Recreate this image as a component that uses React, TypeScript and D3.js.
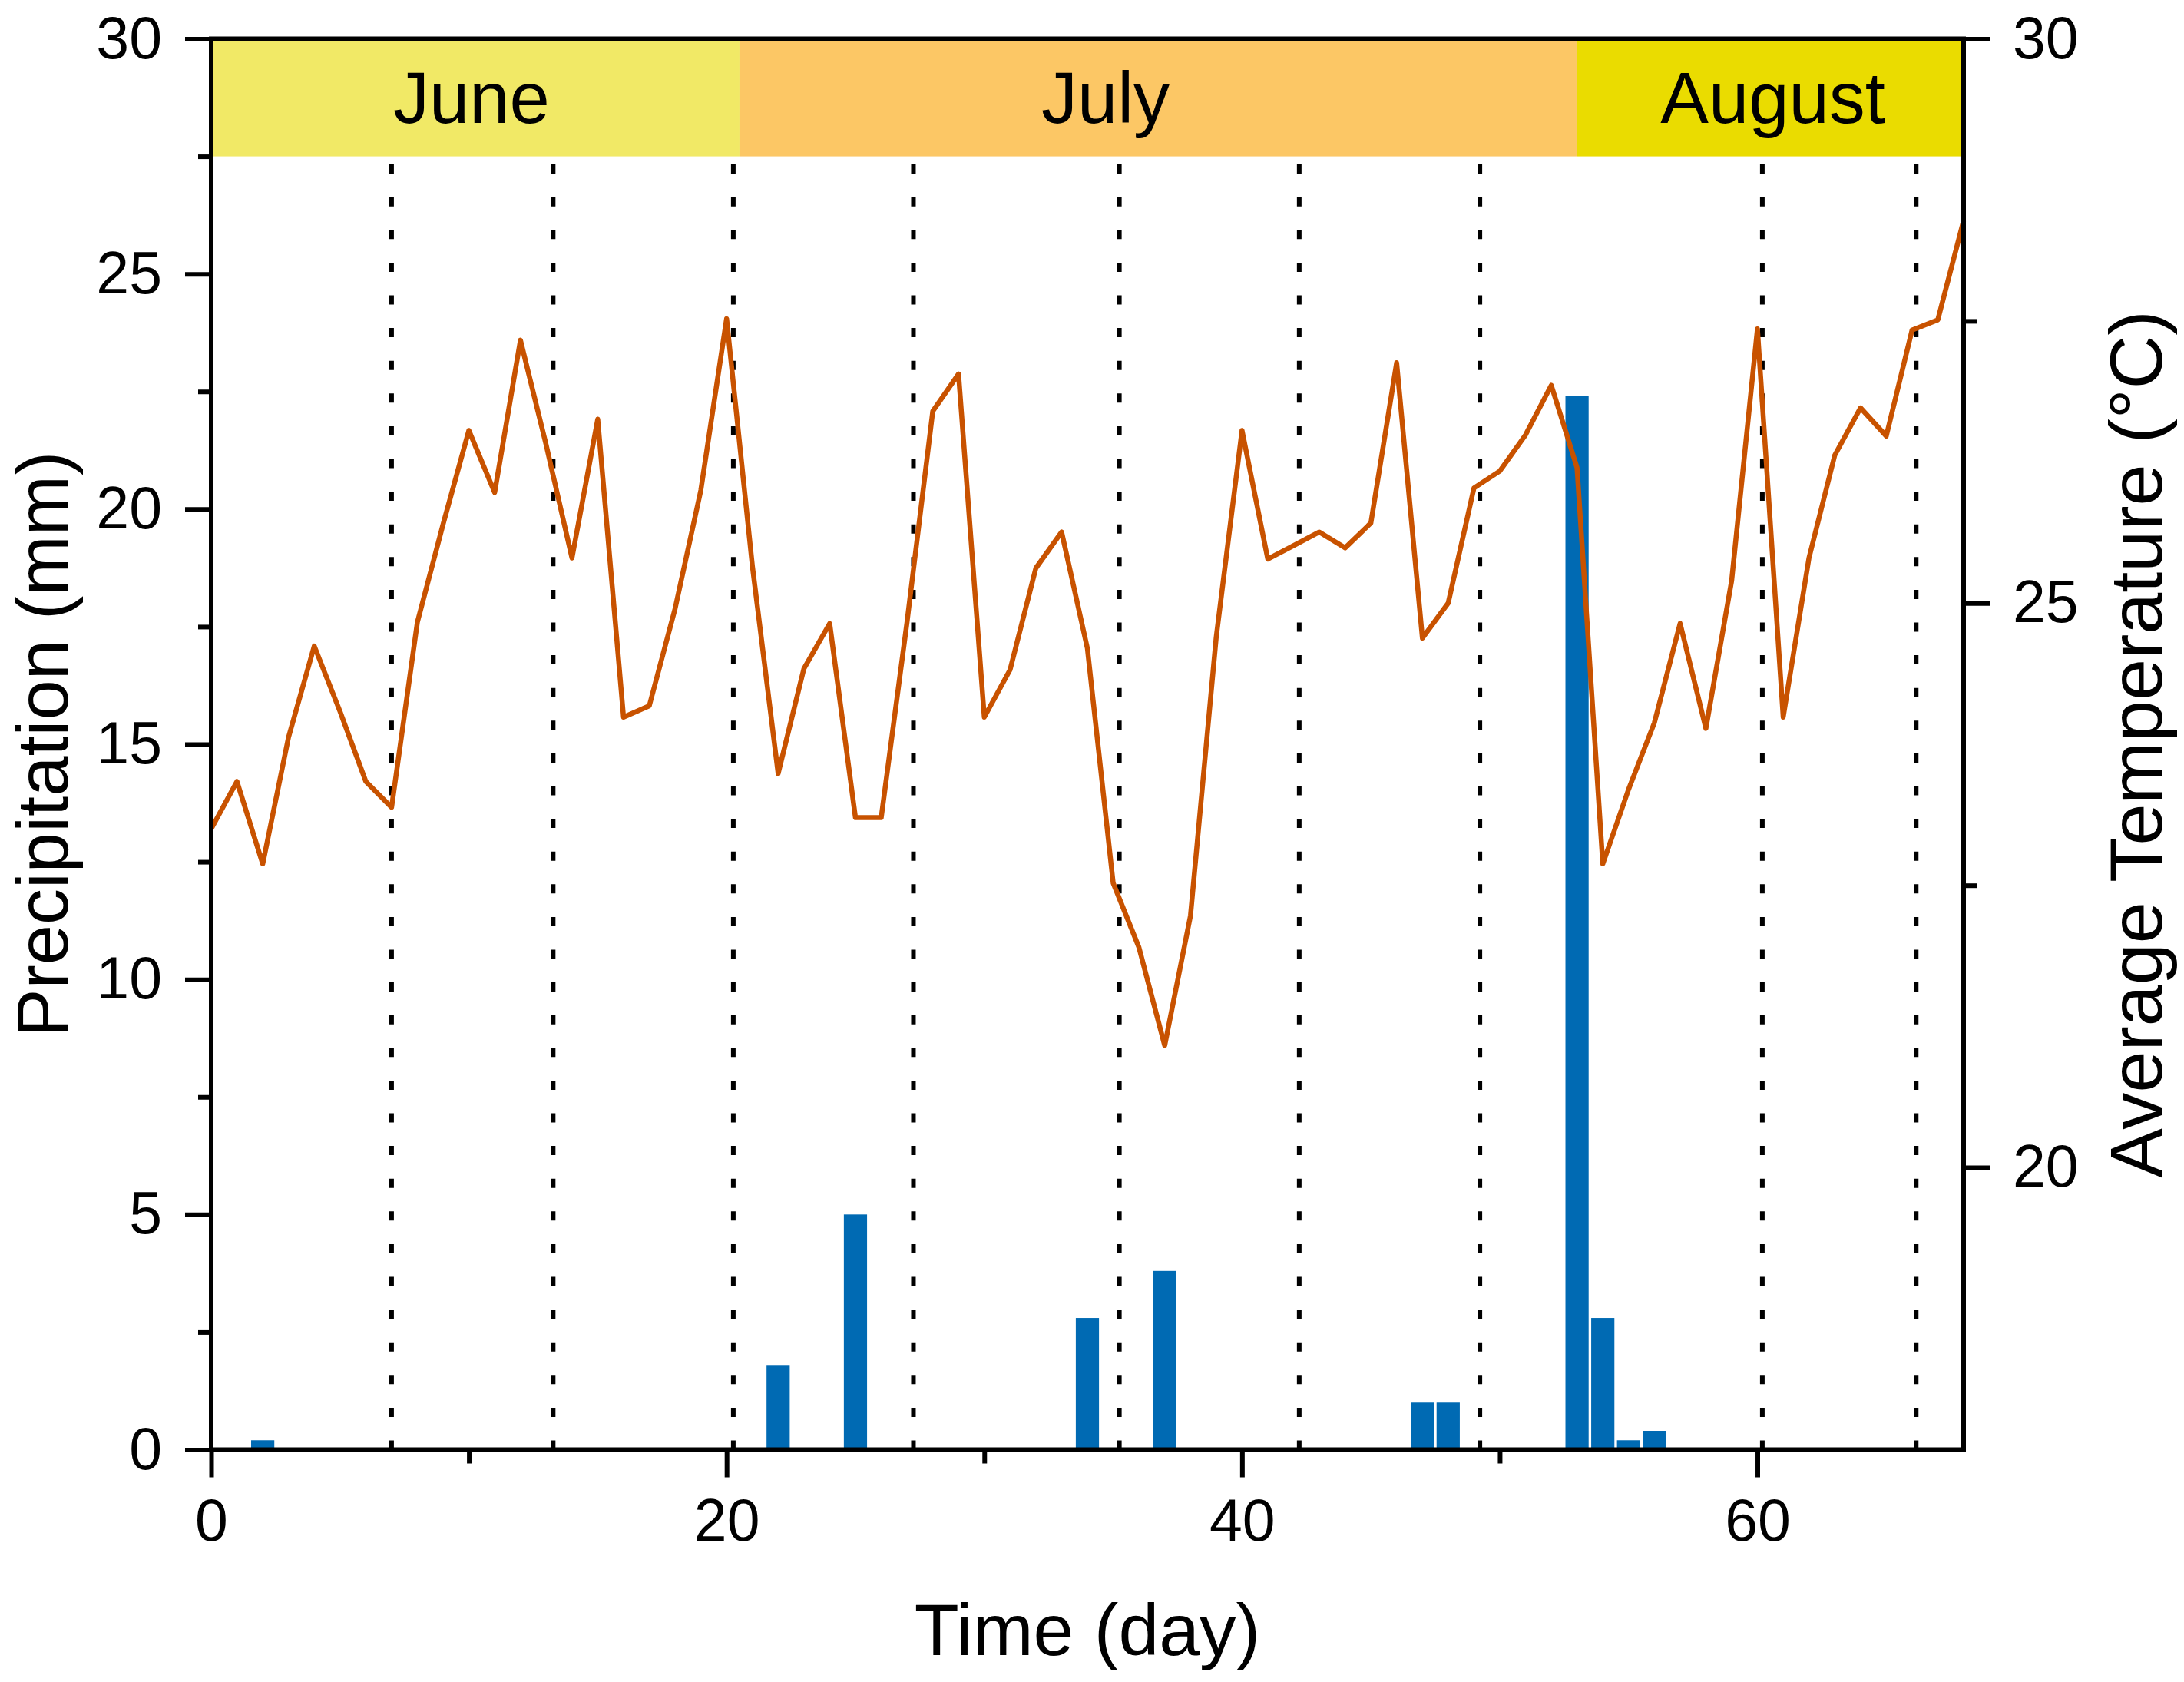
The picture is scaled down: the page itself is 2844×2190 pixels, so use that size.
import * as d3 from "d3";
import React, { useRef, useEffect } from "react";

// daily mean temperature (°C), day 0..68
const temperature = [
  23.0, 23.42, 22.69, 23.81, 24.62, 24.04, 23.42, 23.19, 24.83, 25.7,
  26.53, 25.98, 27.33, 26.4, 25.4, 26.63, 23.99, 24.09, 24.95, 26.0,
  27.52, 25.33, 23.49, 24.42, 24.82, 23.1, 23.1, 24.83, 26.7, 27.03,
  23.99, 24.41, 25.31, 25.63, 24.6, 22.52, 21.95, 21.08, 22.23, 24.7,
  26.53, 25.39, 25.51, 25.63, 25.49, 25.71, 27.13, 24.69, 25.0, 26.02,
  26.17, 26.49, 26.93, 26.2, 22.69, 23.35, 23.94, 24.82, 23.89, 25.2,
  27.43, 23.99, 25.4, 26.31, 26.73, 26.48, 27.42, 27.51, 28.39,
];

// precipitation (mm) on rainy days only
const rainDays = [2, 22, 25, 34, 37, 47, 48, 53, 54, 55, 56];
const rainMm = [0.2, 1.8, 5.0, 2.8, 3.8, 1.0, 1.0, 22.4, 2.8, 0.2, 0.4];

// sampling days (dotted lines)
const samplingDays = [7, 13.27, 20.26, 27.25, 35.24, 42.22, 49.23, 60.19, 66.16];

// month bands
const monthNames = ["June", "July", "August"];
const monthStart = [0, 20.5, 53];
const monthEnd = [20.5, 53, 68];
const monthLabelAt = [10.1, 34.7, 60.6];
const monthColors = ["#f1e966", "#fcc765", "#eadc00"];

const xTicks = [0, 20, 40, 60];
const xMinor = [10, 30, 50];
const pTicks = [0, 5, 10, 15, 20, 25, 30];
const pMinor = [2.5, 7.5, 12.5, 17.5, 22.5, 27.5];
const tTicks = [20, 25, 30];
const tMinor = [22.5, 27.5];

const W = 2844;
const H = 2190;
const margin = { top: 50.5, right: 287, bottom: 302.5, left: 275 };
const font = "'Liberation Sans', Arial, Helvetica, sans-serif";

const styleAxis = (g: any, size: number) => {
  g.select(".domain").remove();
  g.selectAll("line").attr("stroke", "#000").attr("stroke-width", 6);
  g.attr("font-size", size).attr("font-family", font);
  g.selectAll("text").attr("fill", "#000");
};

function App() {
  const ref = useRef<any>();

  useEffect(() => {
    const svg = d3.select(ref.current);
    svg.selectAll("*").remove();

    const x = d3.scaleLinear().domain([0, 68]).range([margin.left, W - margin.right]);
    const yP = d3.scaleLinear().domain([0, 30]).range([H - margin.bottom, margin.top]);
    const yT = d3.scaleLinear().domain([17.5, 30]).range([H - margin.bottom, margin.top]);

    // month bands
    const months = monthNames.map((name, i) => ({
      name,
      start: monthStart[i],
      end: monthEnd[i],
      at: monthLabelAt[i],
      color: monthColors[i],
    }));
    const bandTop = yP(30) + 1.5;
    const bandBottom = yP(27.5);
    svg
      .append("g")
      .selectAll("rect")
      .data(months)
      .join("rect")
      .attr("x", (d: any) => x(d.start))
      .attr("width", (d: any) => x(d.end) - x(d.start))
      .attr("y", bandTop)
      .attr("height", bandBottom - bandTop)
      .attr("fill", (d: any) => d.color);
    svg
      .append("g")
      .selectAll("text")
      .data(months)
      .join("text")
      .attr("x", (d: any) => x(d.at))
      .attr("y", (bandTop + bandBottom) / 2)
      .attr("dy", "0.34em")
      .attr("text-anchor", "middle")
      .attr("font-size", 94)
      .attr("font-family", font)
      .text((d: any) => d.name);

    // dotted sampling lines
    svg
      .append("g")
      .selectAll("line")
      .data(samplingDays)
      .join("line")
      .attr("x1", (d: number) => x(d))
      .attr("x2", (d: number) => x(d))
      .attr("y1", yP(0))
      .attr("y2", bandBottom + 10)
      .attr("stroke", "#000")
      .attr("stroke-width", 6)
      .attr("stroke-dasharray", "12 30.6");

    // precipitation bars
    const rain = rainDays.map((d, i) => ({ day: d, mm: rainMm[i] }));
    svg
      .append("g")
      .selectAll("rect")
      .data(rain)
      .join("rect")
      .attr("x", (d: any) => x(d.day - 0.45))
      .attr("width", x(0.9) - x(0))
      .attr("y", (d: any) => yP(d.mm))
      .attr("height", (d: any) => yP(0) - yP(d.mm))
      .attr("fill", "#006ab3");

    // temperature line
    const line = d3
      .line<number>()
      .x((_d, i) => x(i))
      .y((d) => yT(d));
    svg
      .append("path")
      .datum(temperature)
      .attr("d", line)
      .attr("fill", "none")
      .attr("stroke", "#c85200")
      .attr("stroke-width", 6.5)
      .attr("stroke-linejoin", "round");

    // frame
    svg
      .append("rect")
      .attr("x", margin.left)
      .attr("y", margin.top)
      .attr("width", W - margin.left - margin.right)
      .attr("height", H - margin.top - margin.bottom)
      .attr("fill", "none")
      .attr("stroke", "#000")
      .attr("stroke-width", 6);

    // left axis (precipitation)
    svg
      .append("g")
      .attr("transform", `translate(${margin.left},0)`)
      .call(d3.axisLeft(yP).tickValues(pTicks).tickSize(34).tickPadding(30).tickFormat(d3.format("d")))
      .call((g: any) => styleAxis(g, 77));
    svg
      .append("g")
      .attr("transform", `translate(${margin.left},0)`)
      .call(d3.axisLeft(yP).tickValues(pMinor).tickSize(17).tickFormat(() => ""))
      .call((g: any) => styleAxis(g, 77));

    // bottom axis (time)
    svg
      .append("g")
      .attr("transform", `translate(0,${H - margin.bottom})`)
      .call(d3.axisBottom(x).tickValues(xTicks).tickSize(36).tickPadding(28).tickFormat(d3.format("d")))
      .call((g: any) => styleAxis(g, 77));
    svg
      .append("g")
      .attr("transform", `translate(0,${H - margin.bottom})`)
      .call(d3.axisBottom(x).tickValues(xMinor).tickSize(18).tickFormat(() => ""))
      .call((g: any) => styleAxis(g, 77));

    // right axis (temperature)
    svg
      .append("g")
      .attr("transform", `translate(${W - margin.right},0)`)
      .call(d3.axisRight(yT).tickValues(tTicks).tickSize(35).tickPadding(29).tickFormat(d3.format("d")))
      .call((g: any) => styleAxis(g, 77));
    svg
      .append("g")
      .attr("transform", `translate(${W - margin.right},0)`)
      .call(d3.axisRight(yT).tickValues(tMinor).tickSize(17).tickFormat(() => ""))
      .call((g: any) => styleAxis(g, 77));

    // axis titles
    const midY = (margin.top + H - margin.bottom) / 2;
    svg
      .append("text")
      .attr("x", (margin.left + W - margin.right) / 2)
      .attr("y", 2155)
      .attr("text-anchor", "middle")
      .attr("font-size", 95)
      .attr("font-family", font)
      .text("Time (day)");
    svg
      .append("text")
      .attr("transform", `translate(88,${midY}) rotate(-90)`)
      .attr("text-anchor", "middle")
      .attr("font-size", 94)
      .attr("font-family", font)
      .text("Precipitation (mm)");
    svg
      .append("text")
      .attr("transform", `translate(2815,${midY}) rotate(-90)`)
      .attr("text-anchor", "middle")
      .attr("font-size", 97)
      .attr("font-family", font)
      .text("Average Temperature (°C)");
  }, []);

  return (
    <svg
      ref={ref}
      width={W}
      height={H}
      style={{ position: "absolute", left: 0, top: 0, background: "#fff" }}
    ></svg>
  );
}

export default App;
